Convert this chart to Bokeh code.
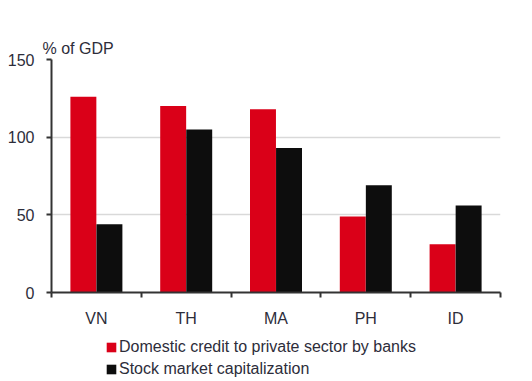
from bokeh.plotting import figure
from bokeh.layouts import column
from bokeh.models import Range1d, FixedTicker, Legend, LegendItem, ColumnDataSource
from bokeh.transform import dodge
from bokeh.embed import file_html
from bokeh.resources import INLINE
import numpy as np

categories = ["VN", "TH", "MA", "PH", "ID"]
credit = [126, 120, 118, 49, 31]
market_cap = [44, 105, 93, 69, 56]
y_ticks = [0, 50, 100, 150]
series_names = ["Domestic credit to private sector by banks", "Stock market capitalization"]

RED = "#DA0018"
BLACK = "#0d0d0d"
TXT = "#2d2d3a"
FONT = "Liberation Sans"

xs = np.arange(len(categories)) + 0.5
src = ColumnDataSource(dict(x=xs, credit=credit, cap=market_cap))

p = figure(width=532, height=329, output_backend="svg", toolbar_location=None,
           x_range=Range1d(0, len(categories)), y_range=Range1d(0, 150),
           min_border_left=51, min_border_right=32, min_border_top=59, min_border_bottom=18)
p.outline_line_color = None
p.background_fill_color = "white"

p.title.text = "% of GDP"
p.title.align = "left"
p.title.offset = -9
p.title.standoff = 6
p.title.text_font = FONT
p.title.text_font_size = "16px"
p.title.text_font_style = "normal"
p.title.text_color = TXT

r1 = p.vbar(x=dodge("x", -0.145, range=p.x_range), top="credit", width=0.289, source=src,
            fill_color=RED, line_color=None)
r2 = p.vbar(x=dodge("x", 0.145, range=p.x_range), top="cap", width=0.289, source=src,
            fill_color=BLACK, line_color=None)

p.xgrid.grid_line_color = None
p.ygrid.grid_line_color = "#d9d9d9"
p.ygrid.grid_line_width = 1.5
p.ygrid.ticker = FixedTicker(ticks=y_ticks)

p.yaxis.ticker = FixedTicker(ticks=y_ticks)
p.yaxis.axis_line_color = "#333333"
p.yaxis.axis_line_width = 2
p.yaxis.major_tick_line_color = "#333333"
p.yaxis.major_tick_line_width = 2
p.yaxis.major_tick_out = 5
p.yaxis.major_tick_in = 0
p.yaxis.minor_tick_line_color = None
p.yaxis.major_label_text_font = FONT
p.yaxis.major_label_text_font_size = "16px"
p.yaxis.major_label_text_color = TXT
p.yaxis.major_label_standoff = 12

p.xaxis.ticker = FixedTicker(ticks=list(xs), minor_ticks=list(range(len(categories) + 1)))
p.xaxis.major_label_overrides = {float(x): c for x, c in zip(xs, categories)}
p.xaxis.axis_line_color = "#333333"
p.xaxis.axis_line_width = 2
p.xaxis.major_tick_line_color = None
p.xaxis.minor_tick_line_color = "#333333"
p.xaxis.minor_tick_line_width = 2
p.xaxis.minor_tick_out = 5
p.xaxis.minor_tick_in = 0
p.xaxis.major_label_text_font = FONT
p.xaxis.major_label_text_font_size = "16px"
p.xaxis.major_label_text_color = TXT
p.xaxis.major_label_standoff = 11

# legend panel: its bar renderers are hidden, only the legend shows
p2 = figure(width=532, height=52, output_backend="svg", toolbar_location=None,
            x_axis_location=None, y_axis_location=None,
            x_range=Range1d(100, 101), y_range=Range1d(1000, 1001),
            min_border_left=51, min_border_right=32, min_border_top=0, min_border_bottom=0)
p2.grid.visible = False
p2.outline_line_color = None
l1 = p2.vbar(x="x", top="credit", width=0.289, source=src, fill_color=RED, line_color=None)
l2 = p2.vbar(x="x", top="cap", width=0.289, source=src, fill_color=BLACK, line_color=None)
l1.visible = False
l2.visible = False

legend = Legend(items=[LegendItem(label=series_names[0], renderers=[l1]),
                       LegendItem(label=series_names[1], renderers=[l2])],
                location=(54, 2), orientation="vertical",
                glyph_width=12, glyph_height=12, label_height=20, spacing=2,
                padding=0, margin=0, label_standoff=2,
                label_text_font=FONT, label_text_font_size="16px", label_text_color=TXT,
                inactive_fill_alpha=0,
                border_line_color=None, background_fill_alpha=0)
p2.add_layout(legend)

open("out.html", "w").write(file_html(column(p, p2), INLINE))
